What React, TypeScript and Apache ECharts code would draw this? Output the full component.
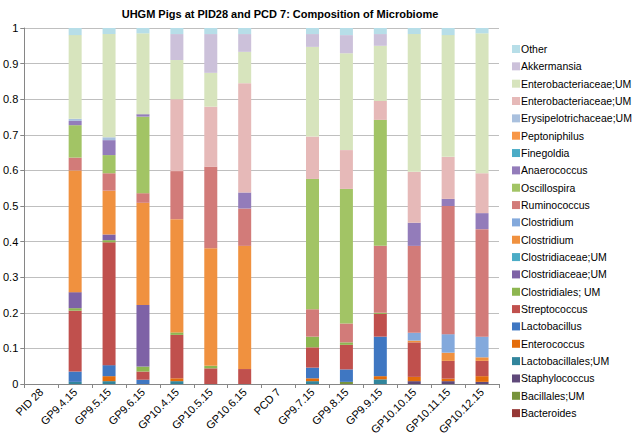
import React, { useEffect, useRef } from "react";
import * as echarts from "echarts";

const categories = ["PID 28", "GP9.4.15", "GP9.5.15", "GP9.6.15", "GP10.4.15", "GP10.5.15", "GP10.6.15", "PCD 7", "GP9.7.15", "GP9.8.15", "GP9.9.15", "GP10.10.15", "GP10.11.15", "GP10.12.15"];
const yTicks = [0, 0.1, 0.2, 0.3, 0.4, 0.5, 0.6, 0.7, 0.8, 0.9, 1];

// bottom of stack first
const bacteroides = [0, 0, 0, 0, 0, 0, 0, 0, 0, 0, 0, 0, 0, 0];
const bacillalesUM = [0, 0, 0, 0, 0, 0, 0, 0, 0, 0.006, 0, 0, 0, 0];
const staphylococcus = [0, 0, 0, 0, 0, 0, 0, 0, 0, 0, 0, 0.008, 0.008, 0.006];
const lactobacillalesUM = [0, 0.006, 0.008, 0, 0.008, 0, 0, 0, 0.008, 0, 0.013, 0, 0, 0];
const enterococcus = [0, 0, 0.014, 0, 0.008, 0, 0, 0, 0.008, 0, 0.009, 0.012, 0.007, 0.016];
const lactobacillus = [0, 0.029, 0.031, 0.012, 0, 0, 0, 0, 0.03, 0.035, 0.111, 0, 0, 0];
const streptococcus = [0, 0.171, 0.345, 0.023, 0.122, 0.044, 0.042, 0, 0.057, 0.069, 0.064, 0.097, 0.05, 0.043];
const clostridialesUM = [0, 0.007, 0.006, 0.014, 0.007, 0.007, 0, 0, 0.03, 0.007, 0.003, 0, 0, 0];
const clostridiaceaeUM1 = [0, 0.045, 0.016, 0.173, 0, 0, 0, 0, 0, 0, 0, 0, 0, 0];
const clostridiaceaeUM2 = [0, 0, 0, 0, 0, 0, 0, 0, 0, 0, 0, 0, 0, 0];
const clostridium1 = [0, 0.342, 0.123, 0.287, 0.318, 0.33, 0.346, 0, 0, 0, 0, 0.005, 0.023, 0.01];
const clostridium2 = [0, 0, 0, 0, 0, 0, 0, 0, 0, 0, 0, 0.022, 0.052, 0.058];
const ruminococcus = [0, 0.036, 0.049, 0.027, 0.135, 0.229, 0.105, 0, 0.077, 0.053, 0.188, 0.244, 0.36, 0.302];
const oscillospira = [0, 0.091, 0.051, 0.215, 0, 0, 0, 0, 0.366, 0.378, 0.354, 0, 0, 0];
const anaerococcus = [0, 0.012, 0.042, 0.007, 0, 0, 0.045, 0, 0, 0, 0, 0.065, 0.02, 0.045];
const finegoldia = [0, 0, 0, 0, 0, 0, 0, 0, 0, 0, 0, 0, 0, 0];
const peptoniphilus = [0, 0, 0, 0, 0, 0, 0, 0, 0, 0, 0, 0, 0, 0];
const erysipelotrichaceaeUM = [0, 0.006, 0.008, 0, 0, 0, 0, 0, 0, 0, 0, 0, 0, 0];
const enterobacteriaceaeUM1 = [0, 0, 0, 0, 0.202, 0.169, 0.307, 0, 0.119, 0.109, 0.053, 0.143, 0.118, 0.112];
const enterobacteriaceaeUM2 = [0, 0.235, 0.29, 0.227, 0.11, 0.095, 0.088, 0, 0.252, 0.272, 0.155, 0.387, 0.342, 0.393];
const akkermansia = [0, 0, 0, 0, 0.073, 0.109, 0.05, 0, 0.036, 0.051, 0.033, 0, 0, 0];
const other = [0, 0.02, 0.017, 0.015, 0.017, 0.017, 0.017, 0, 0.017, 0.02, 0.017, 0.017, 0.02, 0.015];

const seriesDefs: { name: string; data: number[]; color: string }[] = [
  { name: "Bacteroides", data: bacteroides, color: "#953735" },
  { name: "Bacillales;UM", data: bacillalesUM, color: "#77933C" },
  { name: "Staphylococcus", data: staphylococcus, color: "#5F497A" },
  { name: "Lactobacillales;UM", data: lactobacillalesUM, color: "#31859C" },
  { name: "Enterococcus", data: enterococcus, color: "#E46C0A" },
  { name: "Lactobacillus", data: lactobacillus, color: "#3F77C2" },
  { name: "Streptococcus", data: streptococcus, color: "#C0504D" },
  { name: "Clostridiales; UM", data: clostridialesUM, color: "#8DB650" },
  { name: "Clostridiaceae;UM", data: clostridiaceaeUM1, color: "#7E62A6" },
  { name: "Clostridiaceae;UM ", data: clostridiaceaeUM2, color: "#4BACC6" },
  { name: "Clostridium", data: clostridium1, color: "#F0913F" },
  { name: "Clostridium ", data: clostridium2, color: "#83A9DC" },
  { name: "Ruminococcus", data: ruminococcus, color: "#D27B79" },
  { name: "Oscillospira", data: oscillospira, color: "#A2C465" },
  { name: "Anaerococcus", data: anaerococcus, color: "#937CBA" },
  { name: "Finegoldia", data: finegoldia, color: "#4BACC6" },
  { name: "Peptoniphilus", data: peptoniphilus, color: "#F79646" },
  { name: "Erysipelotrichaceae;UM", data: erysipelotrichaceaeUM, color: "#A9C0DE" },
  { name: "Enterobacteriaceae;UM", data: enterobacteriaceaeUM1, color: "#E6B9B8" },
  { name: "Enterobacteriaceae;UM ", data: enterobacteriaceaeUM2, color: "#D7E4BD" },
  { name: "Akkermansia", data: akkermansia, color: "#CCC1DA" },
  { name: "Other", data: other, color: "#B7DEE8" },
];

export default function App() {
  const ref = useRef<HTMLDivElement>(null);
  useEffect(() => {
    if (!ref.current) return;
    const chart = echarts.init(ref.current, undefined, { renderer: "svg" });
    const font = "Arial, 'Liberation Sans', sans-serif";
    chart.setOption({
      animation: false,
      backgroundColor: "#ffffff",
      textStyle: { fontFamily: font },
      title: {
        text: "UHGM Pigs at PID28 and PCD 7: Composition of Microbiome",
        left: 275,
        top: 3,
        textAlign: "center",
        textStyle: { fontSize: 11, fontWeight: "bold", color: "#000", fontFamily: font },
      },
      legend: {
        orient: "vertical",
        left: 512,
        top: 43,
        icon: "rect",
        itemWidth: 8,
        itemHeight: 8,
        itemGap: 5.34,
        padding: 0,
        data: seriesDefs.map((s) => s.name).reverse(),
        textStyle: { fontSize: 10.5, color: "#000", lineHeight: 12, padding: [0, 0, 0, -4], fontFamily: font },
        selectedMode: false,
      },
      grid: { left: 22, right: 139, top: 28, bottom: 55, containLabel: false },
      xAxis: {
        type: "category",
        data: categories,
        boundaryGap: true,
        axisLine: { lineStyle: { color: "#868686" } },
        axisTick: { show: true, alignWithLabel: false, length: 4, lineStyle: { color: "#868686" } },
        axisLabel: { rotate: 45, fontSize: 11, color: "#000", margin: 6, interval: 0, fontFamily: font },
      },
      yAxis: {
        type: "value",
        min: 0,
        max: 1,
        interval: 0.1,
        axisLine: { show: true, lineStyle: { color: "#868686" } },
        axisTick: { show: true, length: 4, lineStyle: { color: "#868686" } },
        axisLabel: {
          fontSize: 11,
          color: "#000",
          margin: 6,
          fontFamily: font,
          formatter: (v: number) => {
            const t = yTicks.find((x) => Math.abs(x - v) < 1e-6);
            return String(t !== undefined ? t : v);
          },
        },
        splitLine: { lineStyle: { color: "#BFBFBF" } },
      },
      series: seriesDefs.map((s) => ({
        name: s.name,
        type: "bar",
        stack: "total",
        data: s.data,
        barWidth: 13,
        itemStyle: { color: s.color },
      })),
    });
    return () => chart.dispose();
  }, []);
  return <div ref={ref} style={{ width: 638, height: 439, position: "absolute", left: 0, top: 0 }} />;
}
